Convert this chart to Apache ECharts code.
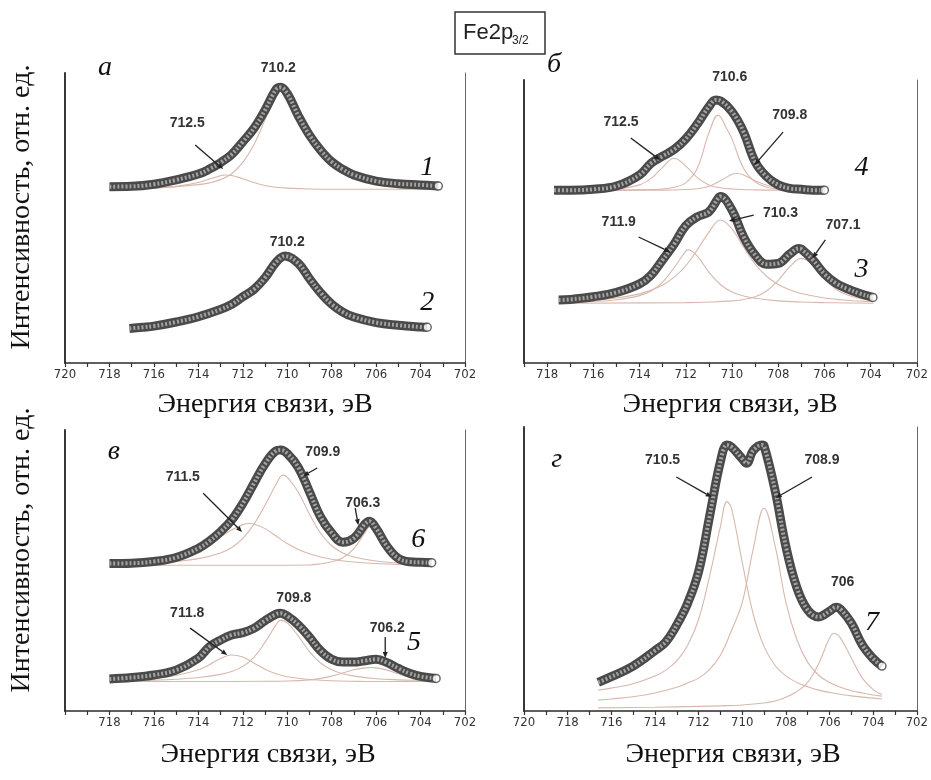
<!DOCTYPE html>
<html>
<head>
<meta charset="utf-8">
<script src="https://cdn.jsdelivr.net/npm/echarts@6/dist/echarts.min.js"></script>
<style>
  html, body { margin: 0; background: #fff; }
  #chart { width: 931px; height: 780px; }
</style>
</head>
<body>
<div id="chart"></div>
<script>
// ---- spectra: [binding energy eV, intensity a.u.] ----
// panel а
var curve1 = [[718,60.2],[717,60.3],[716,61.0],[715,62.5],[714,64.5],[713.5,66.2],[713,68.4],[712.5,71.2],[712,75.5],[711.5,80.1],[711,86.3],[710.5,93.4],[710.3,94.1],[710,92.0],[709.5,84.4],[709,77.8],[708.5,72.7],[708,68.7],[707.5,66.1],[707,64.2],[706,62.1],[705,61.2],[704,60.8],[703.2,60.4]];
var comp1Main = [[718,59.4],[717,59.5],[716,59.8],[715,60.2],[714,60.9],[713.5,61.5],[713,62.6],[712.5,64.6],[712,68.5],[711.5,74.5],[711,83.0],[710.5,92.0],[710.3,93.4],[710,91.6],[709.5,84.1],[709,77.5],[708.5,72.4],[708,68.4],[707.5,65.8],[707,63.9],[706,61.8],[705,60.9],[704,60.4],[703.2,60.1]];
var comp1Sat = [[718,59.3],[717,59.4],[716,59.7],[715,60.3],[714,61.6],[713.5,62.8],[713,63.9],[712.8,64.2],[712.5,64.0],[712,62.9],[711.5,61.6],[711,60.6],[710.5,60.0],[710,59.7],[709,59.4],[708,59.3],[706,59.3],[704,59.3],[703.2,59.3]];
var curve2 = [[717.1,11.8],[716.5,12.2],[716,12.6],[715,14.0],[714,15.8],[713,18.3],[712.5,20.0],[712,22.6],[711.5,25.1],[711,29.1],[710.5,34.4],[710.1,36.5],[709.5,34.0],[709,28.8],[708.5,24.0],[708,20.1],[707.5,17.4],[707,15.7],[706,13.8],[705,12.9],[704,12.3],[703.7,12.2]];

// panel б
var curve4 = [[717.7,59.0],[717,59.0],[716,59.3],[715,60.4],[714,64.2],[713.5,68.2],[713,70.6],[712.5,72.9],[712,76.5],[711.5,81.6],[711,87.5],[710.7,89.8],[710.5,89.5],[710,85.8],[709.5,78.9],[709,68.7],[708.5,63.6],[708,60.8],[707.5,59.6],[707,59.3],[706.5,59.0],[706,59.0]];
var comp4a = [[717.7,59.0],[715,59.0],[714,59.1],[713,59.4],[712.5,60.0],[712,61.5],[711.5,66.5],[711,78.5],[710.6,84.6],[710.2,79.5],[710,76.5],[709.5,66.5],[709,61.8],[708.5,60.0],[708,59.4],[707,59.1],[706,59.0]];
var comp4b = [[717.7,59.0],[716,59.1],[715,59.4],[714,60.8],[713.5,63.0],[713,66.8],[712.5,69.9],[712,67.2],[711.5,63.3],[711,60.8],[710.5,59.8],[710,59.4],[709,59.1],[708,59.0],[706,59.0]];
var comp4c = [[717.7,59.0],[713,59.0],[712,59.2],[711.5,59.5],[711,60.3],[710.5,62.2],[710,64.4],[709.8,64.7],[709.5,64.2],[709,62.2],[708.5,60.7],[708,59.8],[707.5,59.4],[707,59.2],[706,59.0]];
var curve3 = [[717.5,21.5],[717,21.7],[716,22.6],[715,24.1],[714,27.0],[713.5,30.0],[713,35.2],[712.5,40.6],[712,46.9],[711.5,49.9],[711,51.6],[710.6,56.2],[710.5,56.8],[710,52.2],[709.5,43.1],[709,36.9],[708.5,33.7],[708,34.0],[707.5,37.2],[707.1,39.1],[707,38.9],[706.5,35.2],[706,30.4],[705.5,27.2],[705,25.3],[704.5,23.8],[704,22.6],[703.9,22.4]];
var comp3a = [[717.5,20.6],[716,21.0],[715,21.6],[714,23.0],[713.5,24.6],[713,27.6],[712.5,32.6],[712,38.2],[711.9,38.6],[711.5,36.5],[711,31.0],[710.5,26.8],[710,24.2],[709.5,22.9],[709,22.1],[708,21.2],[707,20.8],[706,20.6],[705,20.5],[703.9,20.4]];
var comp3b = [[717.5,20.9],[716,21.4],[715,22.2],[714,23.6],[713.5,24.9],[713,26.6],[712.5,29.3],[712,33.2],[711.5,38.6],[711,44.6],[710.5,48.8],[710,45.8],[709.5,39.6],[709,33.8],[708.5,29.6],[708,26.8],[707.5,25.0],[707,23.7],[706,22.2],[705,21.4],[703.9,20.9]];
var comp3c = [[717.5,20.4],[712,20.6],[711,20.8],[710,21.2],[709.5,21.7],[709,22.6],[708.5,24.6],[708,28.2],[707.5,32.8],[707,35.7],[706.5,33.6],[706,28.6],[705.5,25.2],[705,23.2],[704.5,22.1],[704,21.5],[703.9,21.4]];

// panel в
var curve6 = [[718,51.6],[717,51.7],[716,52.3],[715,53.7],[714,56.9],[713.5,59.4],[713,62.7],[712.5,66.8],[712,72.6],[711.5,79.6],[711,86.4],[710.5,91.0],[710.3,91.3],[710,90.1],[709.5,85.2],[709,76.7],[708.5,67.9],[708,62.3],[707.5,59.0],[707,60.4],[706.5,65.4],[706.3,66.4],[706,63.9],[705.5,57.5],[705,53.4],[704.5,52.2],[704,52.0],[703.5,51.9]];
var comp6a = [[718,51.2],[717,51.4],[716,51.7],[715,52.3],[714,53.3],[713,55.3],[712.5,57.2],[712,60.4],[711.5,65.3],[711,72.0],[710.5,79.3],[710.2,82.5],[710,81.8],[709.5,76.5],[709,68.9],[708.5,62.2],[708,57.8],[707.5,55.3],[707,53.9],[706,52.5],[705,51.8],[704,51.5],[703.5,51.4]];
var comp6b = [[718,51.5],[717,52.0],[716,52.8],[715,54.3],[714,56.8],[713.5,58.6],[713,60.9],[712.5,63.3],[712,65.2],[711.7,65.6],[711.5,65.4],[711,63.8],[710.5,61.2],[710,58.6],[709.5,56.5],[709,55.0],[708.5,53.9],[708,53.1],[707,52.1],[706,51.6],[705,51.3],[704,51.2],[703.5,51.1]];
var comp6c = [[718,51.0],[714,51.0],[711,51.0],[709,51.1],[708.5,51.5],[708,52.2],[707.5,53.6],[707,56.8],[706.5,62.5],[706.3,64.4],[706,62.0],[705.5,56.0],[705,53.1],[704.5,52.0],[704,51.5],[703.5,51.3]];
var curve5 = [[718,11.2],[717,11.7],[716,12.6],[715,14.3],[714,18.5],[713.5,22.5],[713,24.8],[712.5,26.6],[712,27.4],[711.5,28.9],[711,31.6],[710.5,33.9],[710.3,34.2],[710,33.2],[709.5,30.1],[709,25.8],[708.5,21.1],[708,18.1],[707.5,17.1],[707,17.1],[706.5,17.6],[706,18.1],[705.5,16.9],[705,14.9],[704.5,13.2],[704,12.1],[703.3,11.4]];
var comp5a = [[718,10.5],[716,10.8],[715,11.1],[714,11.7],[713,12.8],[712.5,13.8],[712,15.6],[711.5,18.8],[711,24.0],[710.5,30.2],[710.3,31.8],[710,30.8],[709.5,26.2],[709,20.8],[708.5,16.8],[708,14.4],[707.5,13.0],[707,12.2],[706,11.3],[705,10.9],[704,10.7],[703.3,10.6]];
var comp5b = [[718,10.6],[717,10.9],[716,11.4],[715,12.4],[714,14.4],[713.5,16.2],[713,18.4],[712.5,19.6],[712,18.9],[711.5,16.8],[711,14.6],[710.5,13.0],[710,12.0],[709,11.0],[708,10.6],[707,10.4],[706,10.3],[704,10.3],[703.3,10.3]];
var comp5c = [[718,10.3],[714,10.3],[711,10.4],[710,10.5],[709,10.9],[708.5,11.4],[708,12.2],[707.5,13.3],[707,14.4],[706.5,15.1],[706.2,15.2],[706,15.1],[705.5,14.3],[705,13.0],[704.5,11.9],[704,11.2],[703.3,10.8]];

// panel г
var curve7 = [[716.6,10.0],[716,12.0],[715,15.7],[714,21.1],[713.5,24.2],[713,30.1],[712.5,37.7],[712,48.7],[711.5,67.9],[711,87.2],[710.7,93.0],[710.5,92.4],[710,88.2],[709.8,86.6],[709.5,91.0],[709.1,93.0],[709,92.7],[708.5,77.3],[708,57.5],[707.5,43.2],[707,35.3],[706.5,32.9],[706,34.9],[705.7,36.3],[705.5,35.6],[705,30.7],[704.5,23.1],[704,18.3],[703.6,15.7]];
var comp7a = [[716.6,7.3],[716,8.0],[715,9.5],[714,12.2],[713.5,14.3],[713,17.5],[712.5,23.0],[712,32.0],[711.5,47.0],[711,64.5],[710.7,73.2],[710.5,71.0],[710,52.0],[709.5,34.0],[709,22.5],[708.5,16.0],[708,12.3],[707.5,10.0],[707,8.5],[706.5,7.3],[706,6.5],[705,5.3],[704,4.5],[703.6,4.2]];
var comp7b = [[716.6,3.8],[716,4.2],[715,5.0],[714,6.3],[713,8.3],[712.5,9.8],[712,11.5],[711.5,14.5],[711,19.5],[710.5,28.0],[710,38.0],[709.5,56.5],[709,70.9],[708.5,58.0],[708,38.0],[707.5,25.0],[707,17.0],[706.5,12.5],[706,10.0],[705.5,8.3],[705,7.1],[704.5,6.3],[704,5.6],[703.6,5.2]];
var comp7c = [[716.6,1.1],[714,1.3],[712,1.6],[711,1.8],[710,2.1],[709,2.8],[708.5,3.5],[708,4.8],[707.5,6.8],[707,10.0],[706.5,16.5],[706,25.5],[705.8,27.2],[705.5,25.5],[705,18.5],[704.5,11.5],[704,7.5],[703.6,5.8]];

// which curves go in which panel
var panelCurves = [[curve1, curve2], [curve4, curve3], [curve6, curve5], [curve7]];
var panelComps = [[comp1Main, comp1Sat], [comp4a, comp4b, comp4c, comp3a, comp3b, comp3c],
                  [comp6a, comp6b, comp6c, comp5a, comp5b, comp5c], [comp7a, comp7b, comp7c]];

// axis ranges
var xLow = [702, 702, 702, 702];
var xHigh = [720, 719, 720, 720];
var yTop = [99, 96.6, 98.3, 99.3];

// peak labels, curve numbers, panel letters: [panel, text, E, I]
var peakLabels = [
  [0, '710.2', 710.4, 100.7], [0, '712.5', 714.5, 81.9], [0, '710.2', 710.0, 41.3],
  [1, '710.6', 710.1, 97.6], [1, '712.5', 714.8, 82.3], [1, '709.8', 707.5, 84.6],
  [1, '711.9', 714.9, 48.1], [1, '710.3', 707.9, 51.2], [1, '707.1', 705.2, 47.1],
  [2, '709.9', 708.4, 90.6], [2, '711.5', 714.7, 81.8], [2, '706.3', 706.6, 72.7],
  [2, '709.8', 709.7, 39.5], [2, '711.8', 714.5, 34.3], [2, '706.2', 705.5, 29.0],
  [3, '710.5', 713.65, 87.8], [3, '708.9', 706.35, 87.8], [3, '706', 705.4, 45.1]
];
var curveNumbers = [
  [0, '1', 703.7, 66.6], [0, '2', 703.7, 20.5], [1, '4', 704.4, 66.6], [1, '3', 704.4, 31.7],
  [2, '6', 704.1, 59.8], [2, '5', 704.3, 23.8], [3, '7', 704.05, 30.8]
];
var panelLetters = [[0, 'а', 718.2, 101], [1, 'б', 717.7, 101.7], [2, 'в', 717.8, 90.6], [3, 'г', 718.5, 87.8]];
// arrows: [panel, E from, I from, E to, I to]
var arrows = [
  [0, 714.14, 74.4, 712.88, 66.2],
  [1, 714.38, 76.8, 713.11, 69.3], [1, 707.79, 78.8, 709.02, 67.6],
  [1, 714.04, 43.0, 712.68, 37.9], [1, 709.06, 50.5, 710.13, 48.5], [1, 705.96, 42.0, 706.51, 35.8],
  [2, 708.65, 85.0, 709.28, 82.2], [2, 713.78, 76.2, 712.03, 62.6], [2, 706.94, 71.0, 706.8, 65.0],
  [2, 714.37, 29.0, 712.7, 19.6], [2, 705.59, 25.9, 705.59, 18.5],
  [3, 713.02, 81.8, 711.4, 74.8], [3, 706.8, 81.8, 708.47, 74.5]
];

var gridBoxes = [
  { left: 65, right: 466, top: 73, height: 290 },
  { left: 524, right: 8, top: 80, height: 283 },
  { left: 65, right: 466, top: 430, height: 281 },
  { left: 524, right: 8, top: 427, height: 284 }
];

var chart = echarts.init(document.getElementById('chart'));

var grids = [], xAxes = [], yAxes = [], series = [];
gridBoxes.forEach(function (g, i) {
  grids.push(g);
  xAxes.push({
    type: 'value', gridIndex: i, inverse: true, min: xLow[i], max: xHigh[i], interval: 1,
    axisLine: { lineStyle: { color: '#2a2a2a', width: 1.5 } },
    axisTick: { length: 4, lineStyle: { color: '#333', width: 1.2 } },
    splitLine: { show: false },
    axisLabel: {
      margin: 5, fontSize: 13, color: '#333', fontFamily: 'Liberation Sans Narrow, DejaVu Sans Condensed, sans-serif',
      formatter: function (v) { return (v % 2 === 0 && !(i === 2 && v === 720)) ? String(v) : ''; }
    }
  });
  yAxes.push({
    type: 'value', gridIndex: i, min: 0, max: yTop[i], position: 'left',
    axisLine: { show: true, lineStyle: { color: '#222', width: 1.8 } },
    axisTick: { show: false }, axisLabel: { show: false }, splitLine: { show: false }
  });
  yAxes.push({
    type: 'value', gridIndex: i, min: 0, max: yTop[i], position: 'right',
    axisLine: { show: true, lineStyle: { color: '#666', width: 1 } },
    axisTick: { show: false }, axisLabel: { show: false }, splitLine: { show: false }
  });

  panelComps[i].forEach(function (c) {
    series.push({
      type: 'line', xAxisIndex: i, yAxisIndex: i * 2, data: c, smooth: 0.4,
      showSymbol: false, silent: true, z: 2,
      lineStyle: { color: '#d8b8ad', width: 1.1 }
    });
  });
  panelCurves[i].forEach(function (c) {
    series.push({
      type: 'line', xAxisIndex: i, yAxisIndex: i * 2, data: c, smooth: 0.4,
      showSymbol: false, silent: true, z: 3,
      lineStyle: { color: '#4a4a4a', width: 9 }
    });
    series.push({
      type: 'line', xAxisIndex: i, yAxisIndex: i * 2, data: c, smooth: 0.4,
      showSymbol: false, silent: true, z: 4,
      lineStyle: { color: '#a2a2a2', width: 4, type: [2, 2] }
    });
    series.push({
      type: 'scatter', xAxisIndex: i, yAxisIndex: i * 2, data: [c[c.length - 1]],
      symbol: 'circle', symbolSize: 8, silent: true, z: 5,
      itemStyle: { color: '#fff', borderColor: '#444', borderWidth: 1.5 }
    });
  });
});

chart.setOption({
  animation: false,
  backgroundColor: '#fff',
  grid: grids, xAxis: xAxes, yAxis: yAxes, series: series
});

// annotations placed in data units, converted to pixels
function px(p, e, v) { return chart.convertToPixel({ xAxisIndex: p, yAxisIndex: p * 2 }, [e, v]); }
var graphics = [];
peakLabels.forEach(function (l) {
  var q = px(l[0], l[2], l[3]);
  graphics.push({ type: 'text', x: q[0], y: q[1], z: 10,
    style: { text: l[1], align: 'center', verticalAlign: 'middle', fill: '#333',
      font: 'bold 14px "Liberation Sans", Arial, sans-serif' } });
});
curveNumbers.forEach(function (l) {
  var q = px(l[0], l[2], l[3]);
  graphics.push({ type: 'text', x: q[0], y: q[1], z: 10,
    style: { text: l[1], align: 'center', verticalAlign: 'middle', fill: '#111',
      font: 'italic 28px "Liberation Serif", serif' } });
});
panelLetters.forEach(function (l) {
  var q = px(l[0], l[2], l[3]);
  graphics.push({ type: 'text', x: q[0], y: q[1], z: 10,
    style: { text: l[1], align: 'center', verticalAlign: 'middle', fill: '#111',
      font: 'italic 28px "Liberation Serif", serif' } });
});
arrows.forEach(function (a) {
  var p1 = px(a[0], a[1], a[2]), p2 = px(a[0], a[3], a[4]);
  var ang = Math.atan2(p2[1] - p1[1], p2[0] - p1[0]);
  var h = 6, w = 2.5;
  var bx = p2[0] - h * Math.cos(ang), by = p2[1] - h * Math.sin(ang);
  graphics.push({ type: 'line', z: 10, shape: { x1: p1[0], y1: p1[1], x2: bx, y2: by },
    style: { stroke: '#222', lineWidth: 1.3 } });
  graphics.push({ type: 'polygon', z: 10,
    shape: { points: [[p2[0], p2[1]],
      [bx + w * Math.sin(ang), by - w * Math.cos(ang)],
      [bx - w * Math.sin(ang), by + w * Math.cos(ang)]] },
    style: { fill: '#222' } });
});

// figure texts
var serif = '"Liberation Serif", "Times New Roman", serif';
graphics.push({ type: 'rect', z: 10, shape: { x: 455, y: 12, width: 90, height: 42 },
  style: { fill: '#fff', stroke: '#333', lineWidth: 1.5 } });
graphics.push({ type: 'text', x: 463, y: 33, z: 11,
  style: { text: 'Fe2p', verticalAlign: 'middle', fill: '#222', font: '22px "Liberation Sans", Arial, sans-serif' } });
graphics.push({ type: 'text', x: 512, y: 41, z: 11,
  style: { text: '3/2', verticalAlign: 'middle', fill: '#222', font: '12px "Liberation Sans Narrow", "Liberation Sans", sans-serif' } });
[[265, 405], [730, 405], [268, 755], [733, 755]].forEach(function (t) {
  graphics.push({ type: 'text', x: t[0], y: t[1], z: 10,
    style: { text: 'Энергия связи, эВ', align: 'center', verticalAlign: 'middle', fill: '#111', font: '28px ' + serif } });
});
[207, 550].forEach(function (y) {
  graphics.push({ type: 'text', x: 22, y: y, rotation: Math.PI / 2, z: 10,
    style: { text: 'Интенсивность, отн. ед.', align: 'center', verticalAlign: 'middle', fill: '#111', font: '28px ' + serif } });
});

chart.setOption({ graphic: graphics });
</script>
</body>
</html>
